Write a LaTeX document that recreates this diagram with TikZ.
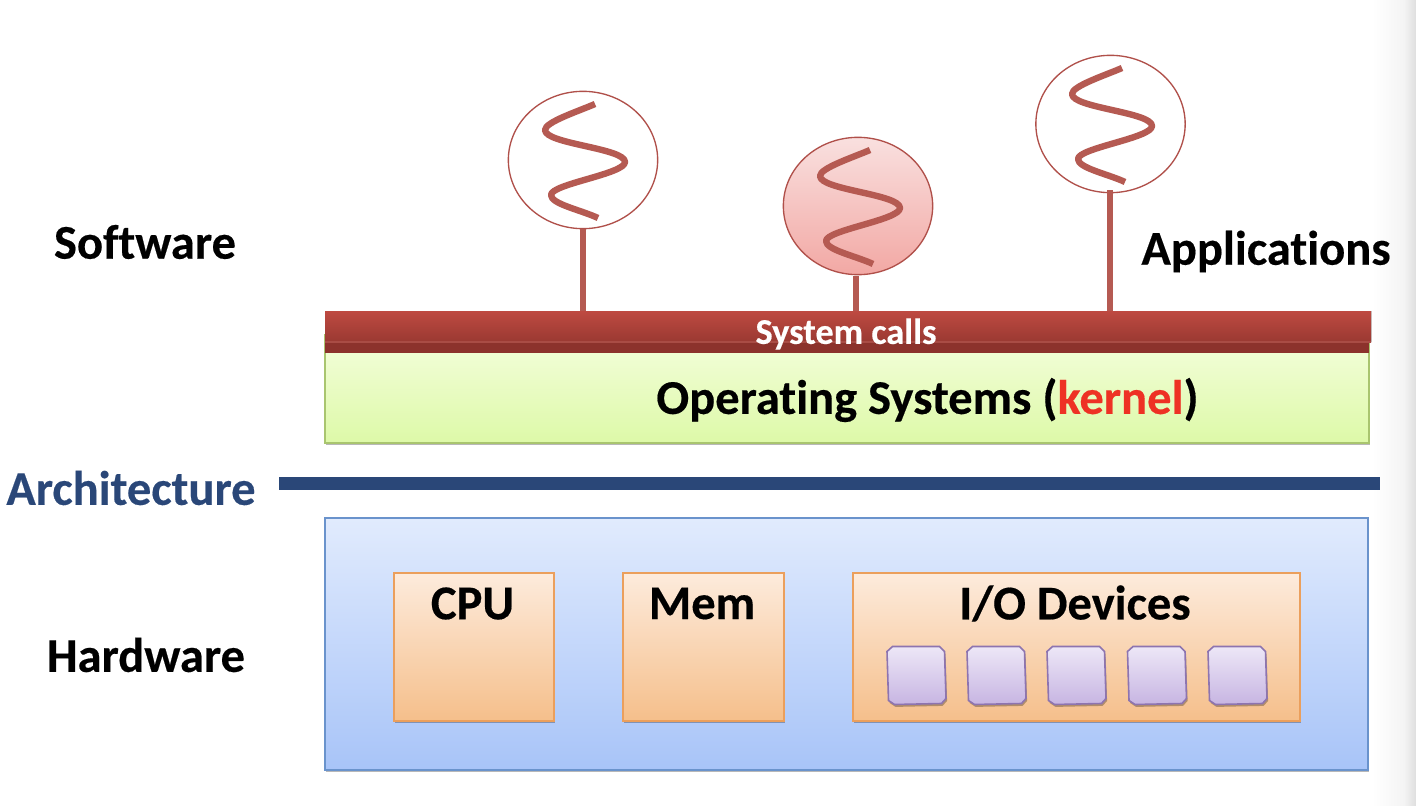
\documentclass[tikz,border=0pt]{standalone}
\usepackage{fontspec}
\setmainfont{Carlito}[Ligatures=CommonOff,BoldFeatures={FakeBold=0.35}]
\usetikzlibrary{shapes.geometric,shadows,calc}
\definecolor{threadc}{HTML}{B55A52}
\definecolor{circc}{HTML}{B0504A}
\definecolor{archblue}{HTML}{2A4778}
\definecolor{redtop}{HTML}{BE4A41}
\definecolor{redmid}{HTML}{9A3932}
\definecolor{reddark}{HTML}{8C322C}
\definecolor{redseam}{HTML}{A94C45}
\definecolor{kernred}{HTML}{EE3124}
\definecolor{grnline}{HTML}{A9C56F}
\definecolor{grntop}{HTML}{F4FEDC}
\definecolor{grnbot}{HTML}{DDF9A8}
\definecolor{hwline}{HTML}{6A93CC}
\definecolor{hwtop}{HTML}{E1EBFD}
\definecolor{hwbot}{HTML}{A8C4F8}
\definecolor{orline}{HTML}{EB9F5C}
\definecolor{ortop}{HTML}{FDEBDC}
\definecolor{orbot}{HTML}{F5BF8B}
\definecolor{chipline}{HTML}{8D74B0}
\definecolor{chiptop}{HTML}{EDE7F7}
\definecolor{chipbot}{HTML}{C7B5E2}
\definecolor{pinktop}{HTML}{F9E0DF}
\definecolor{pinkbot}{HTML}{F2A8A4}
\definecolor{edgea}{HTML}{F4F4F4}
\definecolor{edgeb}{HTML}{DEDEDE}
\tikzset{
  x=0.75pt,y=-0.75pt,
  lbl/.style={font=\bfseries\fontsize{#1}{#1}\selectfont,inner sep=0pt,text=black},
  softshadow/.style={drop shadow={shadow xshift=0.8pt,shadow yshift=-1.8pt,fill=black,opacity=.28}},
  pxbox/.style 2 args={rectangle,anchor=north west,inner sep=0pt,outer sep=0pt,minimum width=#1*0.75pt,minimum height=#2*0.75pt},
  greenbox/.style={draw=grnline,line width=1.2pt,top color=grntop,bottom color=grnbot,softshadow},
  hwbox/.style={draw=hwline,line width=1.2pt,top color=hwtop,bottom color=hwbot,softshadow},
  orangebox/.style={draw=orline,line width=1.2pt,top color=ortop,bottom color=orbot,softshadow},
  chipstyle/.style={draw=chipline,line width=1.2pt,top color=chiptop,bottom color=chipbot,softshadow},
  proc/.style={ellipse,inner sep=0pt,outer sep=0pt,minimum width=112pt,minimum height=103pt,draw=circc,line width=1pt},
  stem/.style={draw=threadc,line width=4.8pt},
  wave/.style={draw=threadc,line width=4.8pt,line join=round},
}
\newcommand{\threadwave}[1]{%
  \draw[wave,shift={(#1)}] (12,-56) .. controls (-4,-49) and (-38,-38) .. (-38,-30)
    .. controls (-38,-16) and (42,-12) .. (42,2)
    .. controls (42,14) and (-32,24) .. (-32,35)
    .. controls (-32,44) and (-2,50) .. (15,58);}
\newcommand{\chipbox}[1]{%
  \path[chipstyle,shift={(#1)}] (-24,-29) -- (23,-29) -- (28,-24) -- (29.5,23) -- (25,28)
    -- (-22,29) -- (-28,25) -- (-29.5,-24) -- cycle;}
\begin{document}
\begin{tikzpicture}
\useasboundingbox (0,0) rectangle (1416,806);
\fill[white] (0,0) rectangle (1416,806);
% right page edge
\shade[left color=white,right color=edgea] (1372,0) rectangle (1404,806);
\shade[left color=edgea,right color=edgeb] (1404,0) rectangle (1416,806);

% threads
\node[proc] (p1) at (583,160) {};
\node[proc,top color=pinktop,bottom color=pinkbot] (p2) at (858,206) {};
\node[proc] (p3) at (1110.5,124) {};
\threadwave{583,160}
\threadwave{858,206}
\threadwave{1110,124}

% OS
\node[pxbox={1044}{108},greenbox] (os) at (325,335) {};
\node[pxbox={1044}{12},fill=reddark] (lowbar) at (325,341) {};
\node[pxbox={1046}{31},top color=redtop,bottom color=redmid,drop shadow={shadow xshift=0.8pt,shadow yshift=0pt,fill=black,opacity=.2}] (bar) at (325,311) {};
\draw[redseam,line width=0.8pt] (bar.south west) -- (bar.south east);
\coordinate (s1) at (583,229);
\coordinate (s2) at (856,276);
\coordinate (s3) at (1110,190);
\draw[stem] (s1) -- (s1 |- bar.north);
\draw[stem] (s2) -- (s2 |- bar.north);
\draw[stem] (s3) -- (s3 |- bar.north);
\node[lbl=27.2,text=white] (sc) at (846,334) {System calls};
\node[lbl=36.4] (ostext) at (927.5,400) {Operating Systems (\textcolor{kernred}{kernel})};

% labels
\node[lbl=36.4] (sw) at (145,242) {Software};
\node[lbl=36.4] (apps) at (1266,251.5) {Applications};
\node[lbl=36.4,text=archblue] (arch) at (131,488) {Architecture};
\node[lbl=36.4] (hw) at (146,655) {Hardware};

% architecture line
\node[pxbox={1101}{13},fill=archblue] (line) at (279,477) {};

% hardware
\node[pxbox={1043}{252},hwbox] (hwb) at (325,518) {};
\node[pxbox={160}{148},orangebox] (cpu) at (394,573) {};
\node[pxbox={161}{148},orangebox] (mem) at (623,573) {};
\node[pxbox={447}{148},orangebox] (io) at (853,573) {};
\node[lbl=36.4] (cput) at (472.5,603.5) {CPU};
\node[lbl=36.4] (memt) at (702,603.5) {Mem};
\node[lbl=36.4] (iot) at (1075,603.5) {I/O Devices};
\chipbox{916.5,675.5}
\chipbox{996.5,675.5}
\chipbox{1076.5,675.5}
\chipbox{1157,675.5}
\chipbox{1237.5,675.5}
\end{tikzpicture}
\end{document}
